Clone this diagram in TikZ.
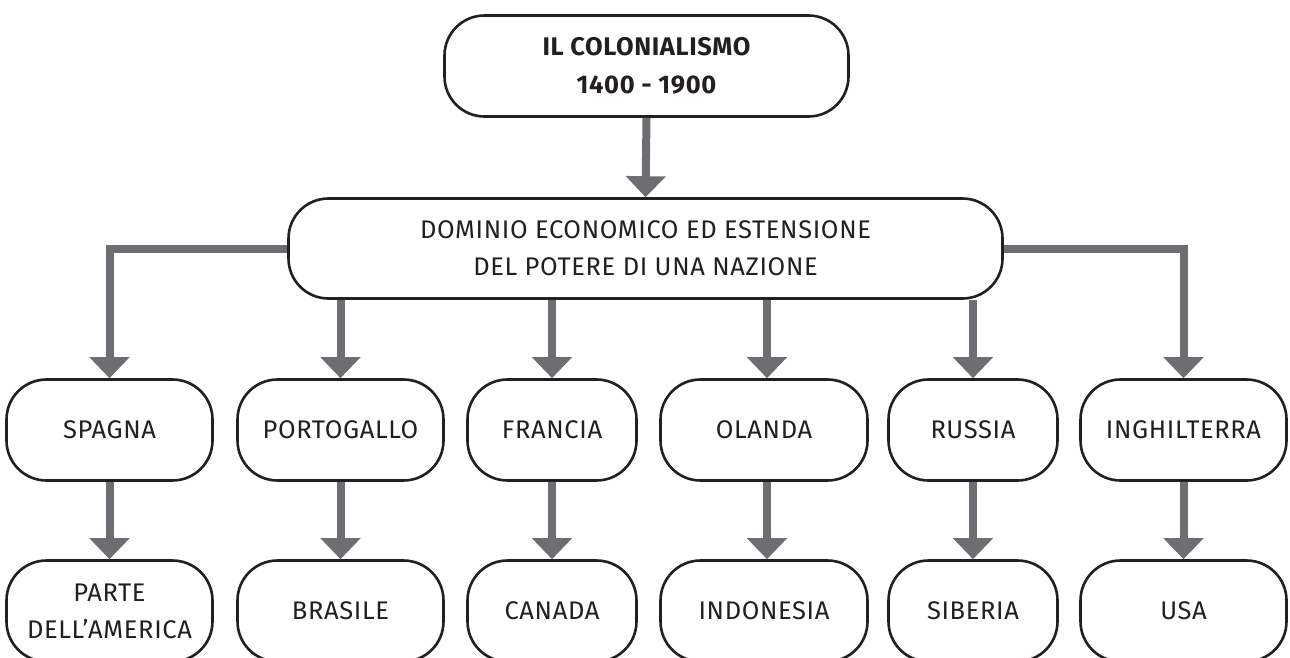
\documentclass[tikz,border=0pt]{standalone}
\usepackage{fontspec}
\setmainfont{Fira Sans}[LetterSpace=2.5]
\usetikzlibrary{arrows.meta,calc}
\definecolor{arrowgray}{HTML}{6D6E71}
\definecolor{inkblack}{HTML}{231F20}
\tikzset{
  box/.style={draw=inkblack, line width=2.6pt, rounded corners=40pt, fill=white,
    inner sep=0pt, align=center, text=inkblack,
    font=\fontsize{25.5}{37}\selectfont, minimum height=101pt},
  conn/.style={draw=arrowgray, line width=8pt,
    -{Triangle[width=39pt,length=21pt]}, arrowgray}
}
\begin{document}
\begin{tikzpicture}[x=1pt,y=-1pt]
\useasboundingbox (0,0) rectangle (1290,658);
\clip (0,0) rectangle (1290,658);
% nodes
\node[box, minimum width=404pt, font=\bfseries\fontsize{25.5}{38}\selectfont] (top) at (646.5,66) {IL COLONIALISMO\\1400 - 1900};
\node[box, minimum width=714pt, minimum height=100pt] (mid) at (645.5,248.5) {DOMINIO ECONOMICO ED ESTENSIONE\\DEL POTERE DI UNA NAZIONE};
\node[box, minimum width=206pt] (spa) at (109.5,430) {SPAGNA};
\node[box, minimum width=206pt] (por) at (340.5,430) {PORTOGALLO};
\node[box, minimum width=169pt] (fra) at (552,430) {FRANCIA};
\node[box, minimum width=207pt] (ola) at (764,430) {OLANDA};
\node[box, minimum width=169pt] (rus) at (973,430) {RUSSIA};
\node[box, minimum width=206pt] (ing) at (1183.5,430) {INGHILTERRA};
\node[box, minimum width=206pt] (spa2) at (109.5,611) {PARTE\\DELL’AMERICA};
\node[box, minimum width=206pt] (por2) at (340.5,611) {BRASILE};
\node[box, minimum width=169pt] (fra2) at (552,611) {CANADA};
\node[box, minimum width=207pt] (ola2) at (764,611) {INDONESIA};
\node[box, minimum width=169pt] (rus2) at (973,611) {SIBERIA};
\node[box, minimum width=206pt] (ing2) at (1183.5,611) {USA};
% connectors
\draw[conn] (top.south) -- (mid.north);
\draw[conn] (mid.west) -| (spa.north);
\draw[conn] (mid.east) -| (ing.north);
\draw[conn] (por.north |- mid.south) -- (por.north);
\draw[conn] (fra.north |- mid.south) -- (fra.north);
\draw[conn] ([xshift=3pt]ola.north |- mid.south) -- ([xshift=3pt]ola.north);
\draw[conn] (rus.north |- mid.south) -- (rus.north);
\foreach \a/\b in {spa/spa2,por/por2,fra/fra2,rus/rus2,ing/ing2}{
  \draw[conn] (\a.south) -- (\b.north);
}
\draw[conn] ([xshift=3pt]ola.south) -- ([xshift=3pt]ola2.north);
\end{tikzpicture}
\end{document}
